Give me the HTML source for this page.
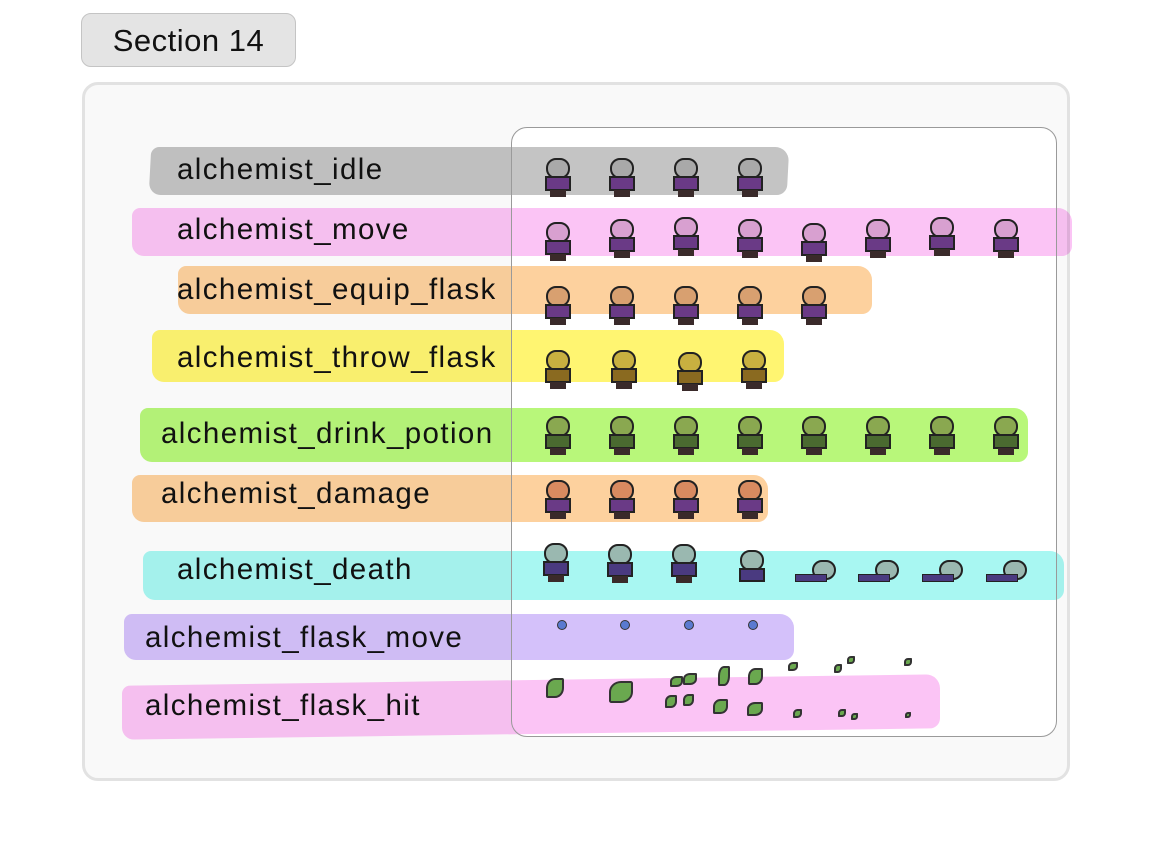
<!DOCTYPE html>
<html><head><style>
body{margin:0;width:1154px;height:864px;background:#fff;position:relative;overflow:hidden;font-family:"Liberation Sans",sans-serif}
.abs{position:absolute}
.sec{left:81px;top:13px;width:215px;height:54px;background:#e4e4e4;border:1.5px solid #c4c4c4;border-radius:10px;font-size:31px;letter-spacing:0.5px;line-height:54px;text-align:center;color:#111;box-sizing:border-box}
.outer{left:82px;top:82px;width:988px;height:699px;background:#f9f9f9;border:3px solid #e2e2e2;border-radius:16px;box-sizing:border-box}
.inner{left:512px;top:128px;width:544px;height:608px;background:#fff;border-radius:16px}
.innerb{left:511px;top:127px;width:546px;height:610px;border:1.5px solid #9a9a9a;border-radius:16px;box-sizing:border-box;z-index:5}
.band{mix-blend-mode:multiply;border-radius:8px 14px 10px 12px}
.lbl{font-size:29.5px;letter-spacing:1.4px;color:#111;z-index:6;white-space:nowrap}
.sp{position:absolute;width:30px;height:40px;z-index:4}
.sp i{position:absolute;display:block}
.h{left:3px;top:0;width:24px;height:21px;border-radius:10px;border:2px solid #222;box-sizing:border-box}
.b{left:2px;top:18px;width:26px;height:15px;background:#6a3a86;border:2px solid #222;box-sizing:border-box}
.l{left:7px;top:32px;width:16px;height:7px;background:#3a2a2a}
.dot{position:absolute;width:10px;height:10px;border-radius:50%;background:#5a7ad0;border:1.5px solid #333;box-sizing:border-box;z-index:4}
.lf{position:absolute;background:#6aa84f;border:2px solid #333;border-radius:50% 10% 50% 10%;box-sizing:border-box;z-index:4}
</style></head><body>
<div class="abs sec">Section 14</div>
<div class="abs outer"></div>
<div class="abs inner"></div>
<div class="abs innerb"></div>

<div class="abs band" style="left:150px;top:147px;width:638px;height:48px;background:#c4c4c4;transform:skewX(-3deg)"></div>
<div class="abs band" style="left:132px;top:208px;width:940px;height:48px;background:#fbc4f5"></div>
<div class="abs band" style="left:178px;top:266px;width:694px;height:48px;background:#fdd19e"></div>
<div class="abs band" style="left:152px;top:330px;width:632px;height:52px;background:#fff571"></div>
<div class="abs band" style="left:140px;top:408px;width:888px;height:54px;background:#b8f77a"></div>
<div class="abs band" style="left:132px;top:475px;width:636px;height:47px;background:#fdd19e"></div>
<div class="abs band" style="left:143px;top:551px;width:921px;height:49px;background:#a8f7f2"></div>
<div class="abs band" style="left:124px;top:614px;width:670px;height:46px;background:#d4c1fa"></div>
<div class="abs band" style="left:122px;top:680px;width:818px;height:54px;background:#fbc4f5;transform:skewY(-0.8deg)"></div>

<div class="abs lbl" style="left:177px;top:153px">alchemist_idle</div>
<div class="abs lbl" style="left:177px;top:213px">alchemist_move</div>
<div class="abs lbl" style="left:177px;top:273px">alchemist_equip_flask</div>
<div class="abs lbl" style="left:177px;top:341px">alchemist_throw_flask</div>
<div class="abs lbl" style="left:161px;top:417px">alchemist_drink_potion</div>
<div class="abs lbl" style="left:161px;top:477px">alchemist_damage</div>
<div class="abs lbl" style="left:177px;top:553px">alchemist_death</div>
<div class="abs lbl" style="left:145px;top:621px">alchemist_flask_move</div>
<div class="abs lbl" style="left:145px;top:689px">alchemist_flask_hit</div>

<!-- idle -->
<div class="sp" style="left:543px;top:158px"><i class="h" style="background:#a9a9a9"></i><i class="b"></i><i class="l"></i></div>
<div class="sp" style="left:607px;top:158px"><i class="h" style="background:#a9a9a9"></i><i class="b"></i><i class="l"></i></div>
<div class="sp" style="left:671px;top:158px"><i class="h" style="background:#a9a9a9"></i><i class="b"></i><i class="l"></i></div>
<div class="sp" style="left:735px;top:158px"><i class="h" style="background:#a9a9a9"></i><i class="b"></i><i class="l"></i></div>
<!-- move -->
<div class="sp" style="left:543px;top:222px"><i class="h" style="background:#d8a0d0"></i><i class="b"></i><i class="l"></i></div>
<div class="sp" style="left:607px;top:219px"><i class="h" style="background:#d8a0d0"></i><i class="b"></i><i class="l"></i></div>
<div class="sp" style="left:671px;top:217px"><i class="h" style="background:#d8a0d0"></i><i class="b"></i><i class="l"></i></div>
<div class="sp" style="left:735px;top:219px"><i class="h" style="background:#d8a0d0"></i><i class="b"></i><i class="l"></i></div>
<div class="sp" style="left:799px;top:223px"><i class="h" style="background:#d8a0d0"></i><i class="b"></i><i class="l"></i></div>
<div class="sp" style="left:863px;top:219px"><i class="h" style="background:#d8a0d0"></i><i class="b"></i><i class="l"></i></div>
<div class="sp" style="left:927px;top:217px"><i class="h" style="background:#d8a0d0"></i><i class="b"></i><i class="l"></i></div>
<div class="sp" style="left:991px;top:219px"><i class="h" style="background:#d8a0d0"></i><i class="b"></i><i class="l"></i></div>
<!-- equip -->
<div class="sp" style="left:543px;top:286px"><i class="h" style="background:#d8a070"></i><i class="b"></i><i class="l"></i></div>
<div class="sp" style="left:607px;top:286px"><i class="h" style="background:#d8a070"></i><i class="b"></i><i class="l"></i></div>
<div class="sp" style="left:671px;top:286px"><i class="h" style="background:#d8a070"></i><i class="b"></i><i class="l"></i></div>
<div class="sp" style="left:735px;top:286px"><i class="h" style="background:#d8a070"></i><i class="b"></i><i class="l"></i></div>
<div class="sp" style="left:799px;top:286px"><i class="h" style="background:#d8a070"></i><i class="b"></i><i class="l"></i></div>
<!-- throw -->
<div class="sp" style="left:543px;top:350px"><i class="h" style="background:#c8b040"></i><i class="b" style="background:#8a6a20"></i><i class="l"></i></div>
<div class="sp" style="left:609px;top:350px"><i class="h" style="background:#c8b040"></i><i class="b" style="background:#8a6a20"></i><i class="l"></i></div>
<div class="sp" style="left:675px;top:352px"><i class="h" style="background:#c8b040"></i><i class="b" style="background:#8a6a20"></i><i class="l"></i></div>
<div class="sp" style="left:739px;top:350px"><i class="h" style="background:#c8b040"></i><i class="b" style="background:#8a6a20"></i><i class="l"></i></div>
<!-- drink -->
<div class="sp" style="left:543px;top:416px"><i class="h" style="background:#8aa850"></i><i class="b" style="background:#4a6a30"></i><i class="l"></i></div>
<div class="sp" style="left:607px;top:416px"><i class="h" style="background:#8aa850"></i><i class="b" style="background:#4a6a30"></i><i class="l"></i></div>
<div class="sp" style="left:671px;top:416px"><i class="h" style="background:#8aa850"></i><i class="b" style="background:#4a6a30"></i><i class="l"></i></div>
<div class="sp" style="left:735px;top:416px"><i class="h" style="background:#8aa850"></i><i class="b" style="background:#4a6a30"></i><i class="l"></i></div>
<div class="sp" style="left:799px;top:416px"><i class="h" style="background:#8aa850"></i><i class="b" style="background:#4a6a30"></i><i class="l"></i></div>
<div class="sp" style="left:863px;top:416px"><i class="h" style="background:#8aa850"></i><i class="b" style="background:#4a6a30"></i><i class="l"></i></div>
<div class="sp" style="left:927px;top:416px"><i class="h" style="background:#8aa850"></i><i class="b" style="background:#4a6a30"></i><i class="l"></i></div>
<div class="sp" style="left:991px;top:416px"><i class="h" style="background:#8aa850"></i><i class="b" style="background:#4a6a30"></i><i class="l"></i></div>
<!-- damage -->
<div class="sp" style="left:543px;top:480px"><i class="h" style="background:#d88a60"></i><i class="b"></i><i class="l"></i></div>
<div class="sp" style="left:607px;top:480px"><i class="h" style="background:#d88a60"></i><i class="b"></i><i class="l"></i></div>
<div class="sp" style="left:671px;top:480px"><i class="h" style="background:#d88a60"></i><i class="b"></i><i class="l"></i></div>
<div class="sp" style="left:735px;top:480px"><i class="h" style="background:#d88a60"></i><i class="b"></i><i class="l"></i></div>
<!-- death -->
<div class="sp" style="left:541px;top:543px"><i class="h" style="background:#9ab8b0"></i><i class="b" style="background:#4a3a80"></i><i class="l"></i></div>
<div class="sp" style="left:605px;top:544px"><i class="h" style="background:#9ab8b0"></i><i class="b" style="background:#4a3a80"></i><i class="l"></i></div>
<div class="sp" style="left:669px;top:544px"><i class="h" style="background:#9ab8b0"></i><i class="b" style="background:#4a3a80"></i><i class="l"></i></div>
<div class="sp" style="left:737px;top:550px"><i class="h" style="background:#9ab8b0"></i><i class="b" style="background:#4a3a80;height:14px"></i></div>
<div class="abs" style="left:795px;top:560px;width:44px;height:24px;z-index:4"><i style="position:absolute;left:17px;top:0;width:24px;height:20px;border-radius:10px;background:#9ab8b0;border:2px solid #222;box-sizing:border-box"></i><i style="position:absolute;left:0;top:14px;width:32px;height:8px;background:#4a3a80;border:1.5px solid #222;box-sizing:border-box"></i></div>
<div class="abs" style="left:858px;top:560px;width:44px;height:24px;z-index:4"><i style="position:absolute;left:17px;top:0;width:24px;height:20px;border-radius:10px;background:#9ab8b0;border:2px solid #222;box-sizing:border-box"></i><i style="position:absolute;left:0;top:14px;width:32px;height:8px;background:#4a3a80;border:1.5px solid #222;box-sizing:border-box"></i></div>
<div class="abs" style="left:922px;top:560px;width:44px;height:24px;z-index:4"><i style="position:absolute;left:17px;top:0;width:24px;height:20px;border-radius:10px;background:#9ab8b0;border:2px solid #222;box-sizing:border-box"></i><i style="position:absolute;left:0;top:14px;width:32px;height:8px;background:#4a3a80;border:1.5px solid #222;box-sizing:border-box"></i></div>
<div class="abs" style="left:986px;top:560px;width:44px;height:24px;z-index:4"><i style="position:absolute;left:17px;top:0;width:24px;height:20px;border-radius:10px;background:#9ab8b0;border:2px solid #222;box-sizing:border-box"></i><i style="position:absolute;left:0;top:14px;width:32px;height:8px;background:#4a3a80;border:1.5px solid #222;box-sizing:border-box"></i></div>
<!-- flask move -->
<div class="dot" style="left:557px;top:620px"></div>
<div class="dot" style="left:620px;top:620px"></div>
<div class="dot" style="left:684px;top:620px"></div>
<div class="dot" style="left:748px;top:620px"></div>
<!-- flask hit -->
<div class="lf" style="left:546px;top:678px;width:18px;height:20px"></div>
<div class="lf" style="left:609px;top:681px;width:24px;height:22px"></div>
<div class="lf" style="left:670px;top:676px;width:13px;height:11px"></div>
<div class="lf" style="left:683px;top:673px;width:14px;height:12px"></div>
<div class="lf" style="left:665px;top:695px;width:12px;height:13px"></div>
<div class="lf" style="left:683px;top:694px;width:11px;height:12px"></div>
<div class="lf" style="left:718px;top:666px;width:12px;height:20px"></div>
<div class="lf" style="left:748px;top:668px;width:15px;height:17px"></div>
<div class="lf" style="left:713px;top:699px;width:15px;height:15px"></div>
<div class="lf" style="left:747px;top:702px;width:16px;height:14px"></div>
<div class="lf" style="left:788px;top:662px;width:10px;height:9px"></div>
<div class="lf" style="left:834px;top:664px;width:8px;height:9px"></div>
<div class="lf" style="left:847px;top:656px;width:8px;height:8px"></div>
<div class="lf" style="left:793px;top:709px;width:9px;height:9px"></div>
<div class="lf" style="left:838px;top:709px;width:8px;height:8px"></div>
<div class="lf" style="left:851px;top:713px;width:7px;height:7px"></div>
<div class="lf" style="left:904px;top:658px;width:8px;height:8px"></div>
<div class="lf" style="left:905px;top:712px;width:6px;height:6px"></div>
</body></html>
